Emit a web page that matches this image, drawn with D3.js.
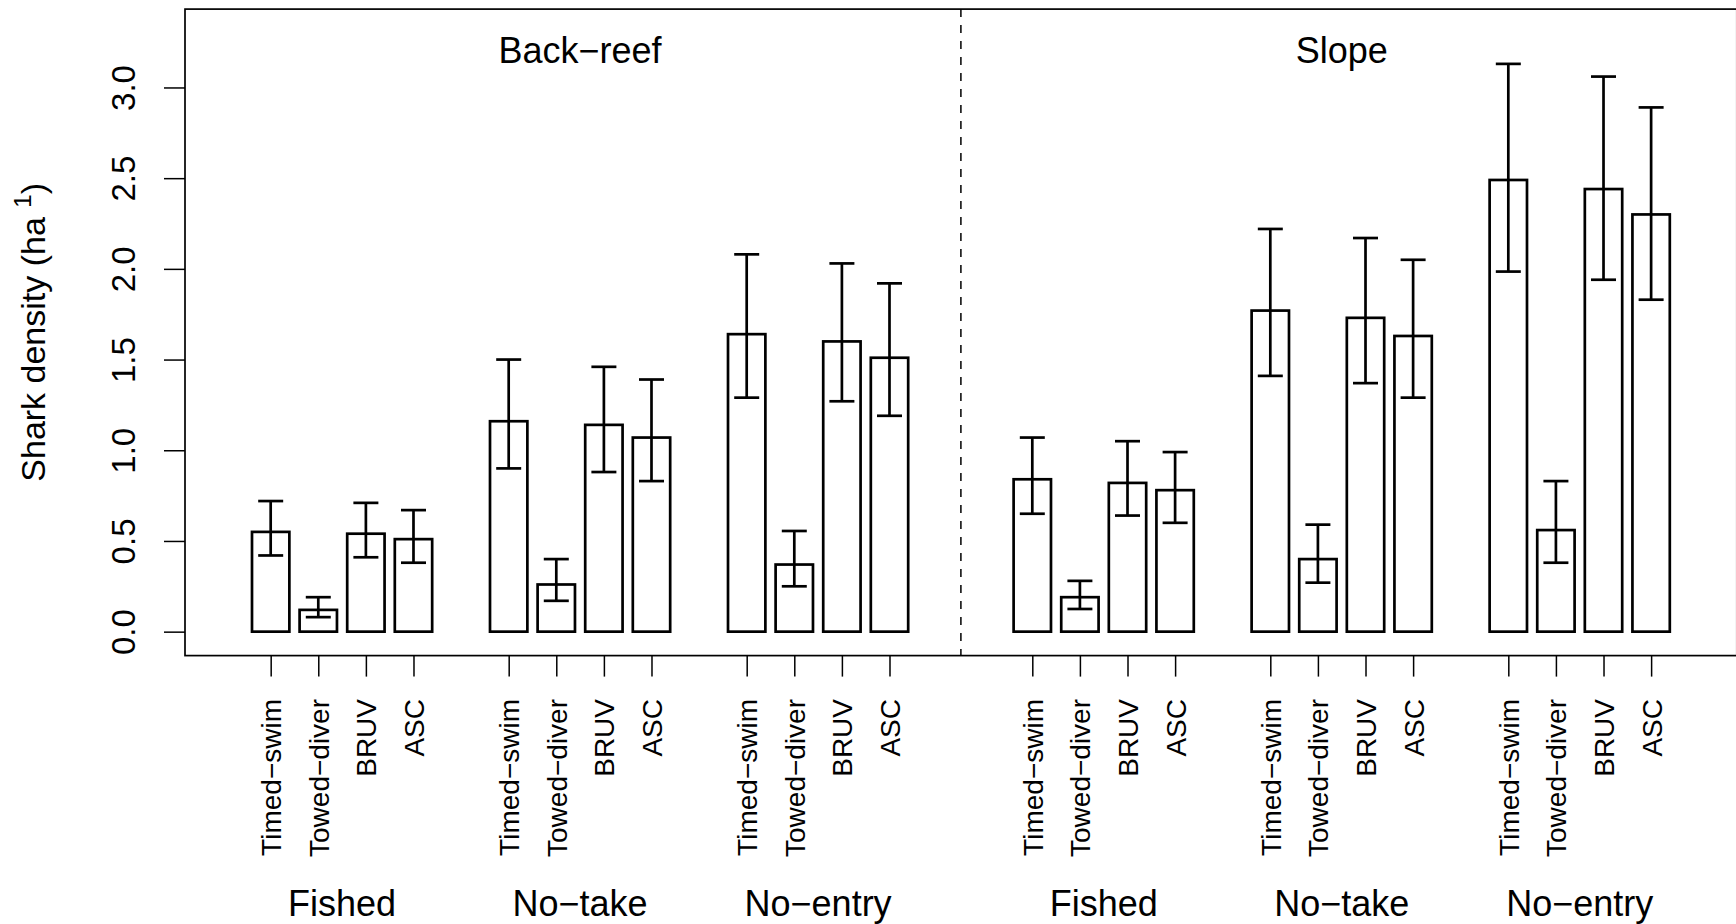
<!DOCTYPE html>
<html>
<head>
<meta charset="utf-8">
<script src="https://cdn.jsdelivr.net/npm/d3@7"></script>
<style>
  html, body { margin: 0; padding: 0; background: white; }
  svg text { font-family: "Liberation Sans", Arial, Helvetica, sans-serif; fill: black; }
</style>
</head>
<body>
<div id="chart"></div>
<script>
// values
const habitats = ["Back−reef", "Slope"];
const zones = ["Fished", "No−take", "No−entry"];
const methods = ["Timed−swim", "Towed−diver", "BRUV", "ASC"];

// order: Fished (4 methods), No-take (4), No-entry (4)
const backReefMean = [0.55, 0.12, 0.54, 0.51, 1.16, 0.26, 1.14, 1.07, 1.64, 0.37, 1.60, 1.51];
const backReefLower = [0.42, 0.08, 0.41, 0.38, 0.90, 0.17, 0.88, 0.83, 1.29, 0.25, 1.27, 1.19];
const backReefUpper = [0.72, 0.19, 0.71, 0.67, 1.50, 0.40, 1.46, 1.39, 2.08, 0.555, 2.03, 1.92];

const slopeMean = [0.84, 0.19, 0.82, 0.78, 1.77, 0.40, 1.73, 1.63, 2.49, 0.56, 2.44, 2.30];
const slopeLower = [0.65, 0.125, 0.64, 0.60, 1.41, 0.27, 1.37, 1.29, 1.985, 0.38, 1.94, 1.83];
const slopeUpper = [1.07, 0.28, 1.05, 0.99, 2.22, 0.59, 2.17, 2.05, 3.13, 0.83, 3.06, 2.89];

const yTicks = [0, 0.5, 1, 1.5, 2, 2.5, 3];
const yLim = [0, 3.3];

const WIDTH = 1736, HEIGHT = 924;
const PLOT = { LEFT: 185, RIGHT: 1736.8, TOP: 9.1, BOTTOM: 655.6 };

// slot positions: 4 bars per zone, 1 empty slot between zones, 2 between habitats
const slotOf = (h, z, m) => h * 16 + z * 5 + m;

const bars = [];
[[backReefMean, backReefLower, backReefUpper], [slopeMean, slopeLower, slopeUpper]].forEach(
  ([mean, lo, hi], h) => {
    mean.forEach((v, i) => {
      const z = Math.floor(i / 4), m = i % 4;
      bars.push({ slot: slotOf(h, z, m), method: methods[m], value: v, lo: lo[i], hi: hi[i] });
    });
  }
);

const svg = d3.select("#chart")
  .append("svg")
  .attr("width", WIDTH)
  .attr("height", HEIGHT)
  .style("display", "block");

const pad = 0.04 * (yLim[1] - yLim[0]);
const y = d3.scaleLinear()
  .domain([yLim[0] - pad, yLim[1] + pad])
  .range([PLOT.BOTTOM, PLOT.TOP]);

const x = d3.scaleLinear()
  .domain([-1.8, 30.8])
  .range([PLOT.LEFT, PLOT.RIGHT]);

const slotW = x(1) - x(0);
const barW = slotW * 0.785;
const capW = 25;

// bars
svg.append("g")
  .selectAll("rect")
  .data(bars)
  .enter()
  .append("rect")
  .attr("x", (d) => x(d.slot) - barW / 2)
  .attr("y", (d) => y(d.value))
  .attr("width", barW)
  .attr("height", (d) => y(0) - y(d.value))
  .attr("fill", "white")
  .attr("stroke", "black")
  .attr("stroke-width", 2.7);

// error bars
const err = svg.append("g")
  .attr("stroke", "black")
  .attr("stroke-width", 2.7)
  .selectAll("g")
  .data(bars)
  .enter()
  .append("g");

err.append("line")
  .attr("x1", (d) => x(d.slot)).attr("x2", (d) => x(d.slot))
  .attr("y1", (d) => y(d.lo)).attr("y2", (d) => y(d.hi));
err.append("line")
  .attr("x1", (d) => x(d.slot) - capW / 2).attr("x2", (d) => x(d.slot) + capW / 2)
  .attr("y1", (d) => y(d.hi)).attr("y2", (d) => y(d.hi));
err.append("line")
  .attr("x1", (d) => x(d.slot) - capW / 2).attr("x2", (d) => x(d.slot) + capW / 2)
  .attr("y1", (d) => y(d.lo)).attr("y2", (d) => y(d.lo));

// dashed divider between habitats
svg.append("line")
  .attr("x1", x(14.5)).attr("x2", x(14.5))
  .attr("y1", PLOT.TOP).attr("y2", PLOT.BOTTOM)
  .attr("stroke", "black")
  .attr("stroke-width", 1.5)
  .attr("stroke-dasharray", "8,8");

// box
svg.append("rect")
  .attr("x", PLOT.LEFT).attr("y", PLOT.TOP)
  .attr("width", PLOT.RIGHT - PLOT.LEFT)
  .attr("height", PLOT.BOTTOM - PLOT.TOP)
  .attr("fill", "none")
  .attr("stroke", "black")
  .attr("stroke-width", 1.7);

// y axis
const yAxis = svg.append("g")
  .attr("transform", `translate(${PLOT.LEFT},0)`)
  .call(d3.axisLeft(y).tickValues(yTicks).tickSize(21).tickFormat(d3.format(".1f")));
yAxis.select(".domain").remove();
yAxis.selectAll("line").attr("stroke-width", 1.5);
yAxis.selectAll("text")
  .attr("x", null).attr("dy", null)
  .attr("text-anchor", "middle")
  .attr("font-size", 33)
  .attr("transform", "translate(-50,0) rotate(-90)");

// x axis
const xAxis = svg.append("g")
  .attr("transform", `translate(0,${PLOT.BOTTOM})`)
  .call(d3.axisBottom(x).tickValues(bars.map((d) => d.slot)).tickSize(21)
    .tickFormat((s) => bars.find((b) => b.slot === s).method));
xAxis.select(".domain").remove();
xAxis.selectAll("line").attr("stroke-width", 1.5);
xAxis.selectAll("text")
  .attr("y", null).attr("dy", null)
  .attr("text-anchor", "end")
  .attr("font-size", 28)
  .attr("transform", "translate(10,43.4) rotate(-90)");

// zone labels under each group
const zoneLabels = [];
habitats.forEach((h, hi) => zones.forEach((z, zi) => zoneLabels.push({ label: z, slot: slotOf(hi, zi, 1.5) })));
svg.append("g")
  .selectAll("text")
  .data(zoneLabels)
  .enter()
  .append("text")
  .attr("x", (d) => x(d.slot))
  .attr("y", 916)
  .attr("text-anchor", "middle")
  .attr("font-size", 36)
  .text((d) => d.label);

// habitat titles
svg.append("g")
  .selectAll("text")
  .data(habitats)
  .enter()
  .append("text")
  .attr("x", (d, i) => x(slotOf(i, 1, 1.5)))
  .attr("y", 63)
  .attr("text-anchor", "middle")
  .attr("font-size", 36)
  .text((d) => d);

// y title
const yTitle = svg.append("text")
  .attr("transform", `translate(45,${(PLOT.TOP + PLOT.BOTTOM) / 2}) rotate(-90)`)
  .attr("text-anchor", "middle")
  .attr("font-size", 34);
yTitle.append("tspan").text("Shark density (ha ");
yTitle.append("tspan").attr("font-size", 24).attr("dy", -14).text(" 1");
yTitle.append("tspan").attr("dy", 14).text(")");
</script>
</body>
</html>
